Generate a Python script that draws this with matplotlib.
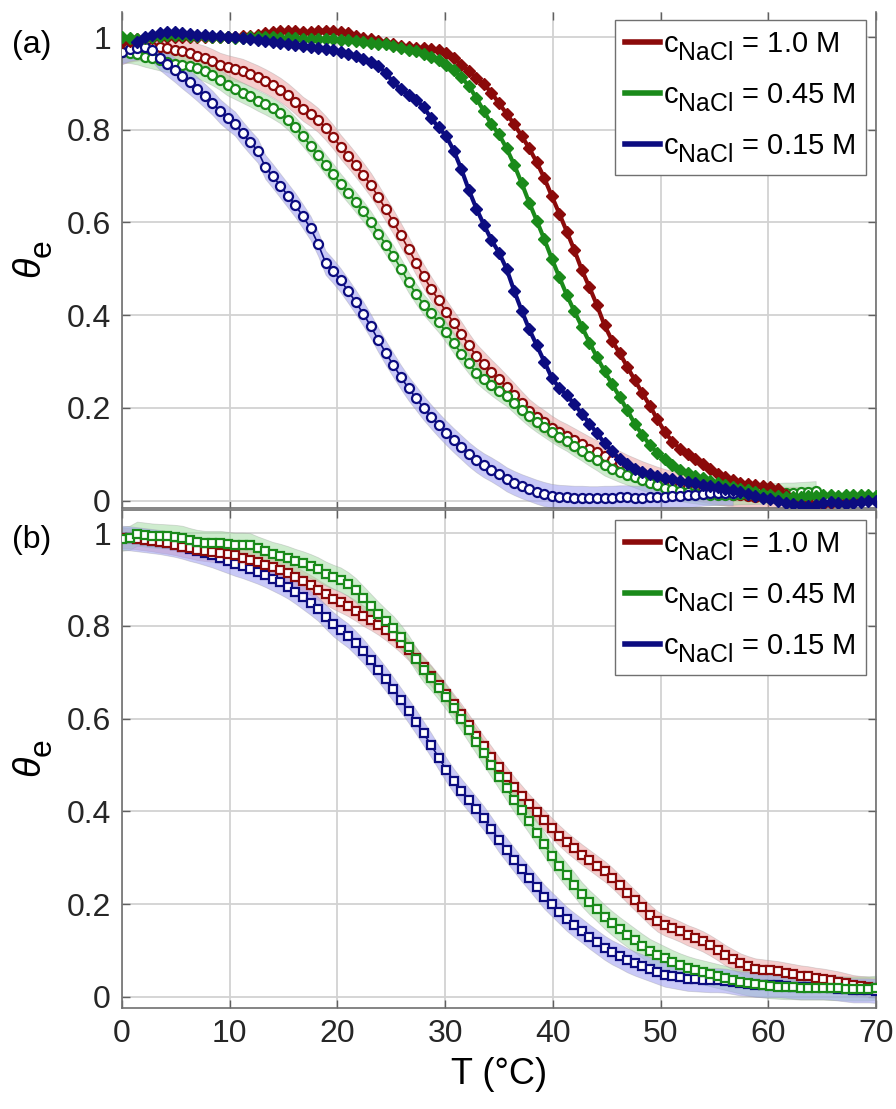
import numpy as np
import matplotlib
matplotlib.use("Agg")
import matplotlib.pyplot as plt
from matplotlib.lines import Line2D
from matplotlib import font_manager
try:
    import matplotlib._mathtext as _mt
    _mt.SHRINK_FACTOR = 0.85
    _mt.FontConstantsBase.sub1 = 0.55
    _mt.FontConstantsBase.sub2 = 0.6
except Exception:
    pass

# ---------------- data ----------------
T = np.round(np.arange(101) * 0.7, 1)          # temperature grid (°C)
xticks = [0, 10, 20, 30, 40, 50, 60, 70]
yticks = [0, 0.2, 0.4, 0.6, 0.8, 1.0]
yticklabels = ['0', '0.2', '0.4', '0.6', '0.8', '1']
labels = [r'c$_{\mathregular{NaCl}}$ = 1.0 M',
          r'c$_{\mathregular{NaCl}}$ = 0.45 M',
          r'c$_{\mathregular{NaCl}}$ = 0.15 M']

# panel (a) filled markers
a_fill_red = [0.990, 0.992, 0.995, 0.997, 0.998, 1.000, 1.000, 1.000, 1.001, 1.000,
              1.000, 0.999, 1.000, 1.001, 1.000, 1.000, 1.002, 1.003, 1.005, 1.008,
              1.011, 1.012, 1.013, 1.012, 1.010, 1.011, 1.013, 1.014, 1.013, 1.011,
              1.008, 1.003, 0.998, 0.995, 0.991, 0.988, 0.985, 0.981, 0.978, 0.977,
              0.976, 0.975, 0.972, 0.965, 0.955, 0.940, 0.926, 0.912, 0.898, 0.880,
              0.857, 0.835, 0.812, 0.787, 0.760, 0.730, 0.696, 0.657, 0.619, 0.580,
              0.540, 0.497, 0.460, 0.421, 0.378, 0.345, 0.318, 0.289, 0.260, 0.232,
              0.205, 0.175, 0.148, 0.127, 0.112, 0.101, 0.090, 0.078, 0.068, 0.058,
              0.051, 0.044, 0.038, 0.035, 0.033, 0.032, 0.029, 0.025, 0.013, 0.003,
              -0.005, -0.008, -0.008, -0.007, -0.005, -0.004, -0.002, 0.000, 0.002, 0.003,
              0.005]
a_fill_green = [1.000, 0.998, 0.996, 0.998, 1.001, 1.003, 1.004, 1.005, 1.004, 1.003,
                1.003, 1.002, 1.001, 1.000, 0.999, 0.998, 0.998, 0.999, 1.000, 1.000,
                0.999, 0.998, 0.997, 0.997, 0.996, 0.996, 0.995, 0.995, 0.995, 0.994,
                0.993, 0.992, 0.990, 0.988, 0.986, 0.984, 0.981, 0.977, 0.973, 0.969,
                0.964, 0.958, 0.950, 0.940, 0.928, 0.913, 0.895, 0.868, 0.840, 0.812,
                0.790, 0.760, 0.725, 0.685, 0.643, 0.604, 0.564, 0.522, 0.482, 0.443,
                0.408, 0.375, 0.341, 0.309, 0.279, 0.251, 0.224, 0.195, 0.166, 0.142,
                0.120, 0.103, 0.089, 0.077, 0.067, 0.060, 0.054, 0.049, 0.043, 0.039,
                0.034, 0.030, 0.026, 0.022, 0.018, 0.015, 0.012, 0.010, 0.008, 0.007,
                0.008, 0.009, 0.010, 0.011, 0.011, 0.010, 0.011, 0.012, 0.011, 0.011,
                0.010]
a_fill_blue = [0.990, 1.000, 1.004, 1.008, 1.010, 1.010, 1.008, 1.006,      # from T=1.4
               1.005, 1.004, 1.003, 1.002, 1.000, 0.999, 0.998, 0.996, 0.994, 0.992,
               0.990, 0.988, 0.986, 0.983, 0.981, 0.979, 0.977, 0.975, 0.972, 0.968,
               0.964, 0.959, 0.953, 0.946, 0.938, 0.922, 0.902, 0.887, 0.876, 0.864,
               0.849, 0.825, 0.805, 0.786, 0.755, 0.715, 0.670, 0.630, 0.595, 0.562,
               0.535, 0.500, 0.453, 0.410, 0.370, 0.335, 0.300, 0.265, 0.243, 0.227,
               0.208, 0.187, 0.166, 0.145, 0.124, 0.106, 0.090, 0.078, 0.068, 0.062,
               0.058, 0.053, 0.049, 0.046, 0.043, 0.040, 0.037, 0.034, 0.031, 0.029,
               0.026, 0.023, 0.019, 0.014, 0.010, 0.006, 0.003, -0.001, -0.005, -0.008,
               -0.010, -0.011, -0.009, -0.006, -0.004, -0.005, -0.007, -0.006, -0.003, -0.001,
               0.000]
a_fill_blue_start = 2   # index in T where this series begins

# panel (a) open circles with bands
a_open_red = [0.968, 0.972, 0.975, 0.977, 0.978, 0.978, 0.976, 0.973, 0.970, 0.965,
              0.960, 0.955, 0.948, 0.940, 0.935, 0.931, 0.927, 0.920, 0.913, 0.905,
              0.896, 0.886, 0.874, 0.860, 0.845, 0.834, 0.821, 0.804, 0.785, 0.763,
              0.744, 0.724, 0.703, 0.681, 0.655, 0.628, 0.601, 0.572, 0.543, 0.513,
              0.484, 0.457, 0.432, 0.407, 0.383, 0.360, 0.335, 0.312, 0.295, 0.278,
              0.262, 0.245, 0.228, 0.210, 0.193, 0.180, 0.169, 0.157, 0.147, 0.139,
              0.130, 0.121, 0.112, 0.104, 0.096, 0.088, 0.081, 0.073, 0.066, 0.059,
              0.053, 0.047, 0.042, 0.038, 0.033, 0.030, 0.026, 0.023, 0.020, 0.017,
              0.015, 0.013, 0.011, 0.010, 0.008, 0.007, 0.006, 0.005, 0.004, 0.004,
              0.003, 0.003, 0.003]
a_open_green = [0.968, 0.966, 0.963, 0.958, 0.954, 0.950, 0.946, 0.942, 0.940, 0.937,
                0.933, 0.926, 0.918, 0.908, 0.896, 0.888, 0.880, 0.872, 0.863, 0.855,
                0.846, 0.836, 0.822, 0.805, 0.786, 0.766, 0.746, 0.725, 0.705, 0.683,
                0.664, 0.644, 0.624, 0.602, 0.576, 0.552, 0.528, 0.500, 0.471, 0.446,
                0.423, 0.404, 0.385, 0.363, 0.340, 0.317, 0.296, 0.276, 0.262, 0.249,
                0.237, 0.226, 0.211, 0.196, 0.182, 0.170, 0.159, 0.148, 0.138, 0.129,
                0.118, 0.108, 0.097, 0.087, 0.076, 0.069, 0.062, 0.056, 0.050, 0.044,
                0.039, 0.033, 0.027, 0.024, 0.021, 0.018, 0.016, 0.014, 0.013, 0.013,
                0.013, 0.013, 0.014, 0.014, 0.015, 0.015, 0.016, 0.016, 0.017, 0.017,
                0.018, 0.019, 0.020]
a_open_blue = [0.968, 0.974, 0.977, 0.978, 0.973, 0.955, 0.942, 0.929, 0.915, 0.902,
               0.888, 0.873, 0.858, 0.840, 0.826, 0.813, 0.792, 0.773, 0.755, 0.720,
               0.700, 0.679, 0.658, 0.637, 0.613, 0.588, 0.554, 0.513, 0.495, 0.475,
               0.452, 0.428, 0.403, 0.376, 0.346, 0.318, 0.292, 0.266, 0.242, 0.221,
               0.200, 0.181, 0.163, 0.146, 0.130, 0.115, 0.100, 0.087, 0.076, 0.067,
               0.057, 0.046, 0.038, 0.031, 0.025, 0.019, 0.014, 0.010, 0.008, 0.007,
               0.006, 0.006, 0.005, 0.005, 0.006, 0.006, 0.007, 0.007, 0.006, 0.006,
               0.007, 0.008, 0.008, 0.009, 0.010, 0.011, 0.013, 0.015, 0.016, 0.017,
               0.017, 0.016]
a_band = [0.026, 0.022, 0.026]   # half-width of shaded bands (red, green, blue)

# panel (b) open squares with bands
b_red = [0.990, 0.989, 0.987, 0.985, 0.983, 0.980, 0.978, 0.975, 0.971, 0.968,
         0.964, 0.962, 0.960, 0.957, 0.955, 0.952, 0.947, 0.942, 0.937, 0.932,
         0.926, 0.921, 0.914, 0.906, 0.897, 0.888, 0.878, 0.868, 0.859, 0.851,
         0.843, 0.833, 0.822, 0.813, 0.803, 0.791, 0.778, 0.764, 0.748, 0.731,
         0.712, 0.693, 0.673, 0.653, 0.631, 0.610, 0.587, 0.563, 0.540, 0.518,
         0.495, 0.474, 0.453, 0.434, 0.415, 0.398, 0.381, 0.364, 0.348, 0.333,
         0.320, 0.307, 0.295, 0.283, 0.271, 0.257, 0.241, 0.225, 0.209, 0.193,
         0.177, 0.163, 0.154, 0.148, 0.141, 0.133, 0.127, 0.120, 0.111, 0.101,
         0.090, 0.081, 0.072, 0.066, 0.061, 0.059, 0.057, 0.055, 0.052, 0.049,
         0.046, 0.044, 0.041, 0.039, 0.036, 0.033, 0.029, 0.025, 0.023, 0.022,
         0.020]
b_green = [0.988, 0.990, 0.999, 0.997, 0.995, 0.994, 0.993, 0.992, 0.990, 0.985,
           0.981, 0.979, 0.979, 0.979, 0.977, 0.975, 0.975, 0.974, 0.967, 0.961,
           0.955, 0.951, 0.946, 0.940, 0.935, 0.929, 0.922, 0.913, 0.906, 0.900,
           0.890, 0.877, 0.860, 0.843, 0.826, 0.810, 0.795, 0.776, 0.754, 0.728,
           0.705, 0.687, 0.667, 0.646, 0.623, 0.600, 0.575, 0.550, 0.525, 0.500,
           0.475, 0.450, 0.425, 0.402, 0.379, 0.354, 0.329, 0.304, 0.282, 0.262,
           0.242, 0.221, 0.204, 0.189, 0.173, 0.159, 0.146, 0.134, 0.122, 0.110,
           0.099, 0.091, 0.083, 0.075, 0.068, 0.062, 0.057, 0.053, 0.049, 0.045,
           0.041, 0.037, 0.033, 0.029, 0.027, 0.025, 0.023, 0.022, 0.021, 0.021,
           0.020, 0.020, 0.020, 0.020, 0.019, 0.019, 0.018, 0.018, 0.018, 0.018,
           0.020]
b_blue = [0.990, 0.989, 0.987, 0.985, 0.983, 0.981, 0.978, 0.975, 0.971, 0.966,
          0.962, 0.957, 0.952, 0.946, 0.940, 0.934, 0.929, 0.923, 0.917, 0.910,
          0.902, 0.894, 0.885, 0.874, 0.862, 0.850, 0.837, 0.820, 0.804, 0.791,
          0.779, 0.763, 0.746, 0.726, 0.706, 0.685, 0.663, 0.640, 0.617, 0.593,
          0.568, 0.543, 0.516, 0.490, 0.466, 0.445, 0.425, 0.405, 0.385, 0.362,
          0.338, 0.317, 0.296, 0.275, 0.256, 0.236, 0.216, 0.200, 0.184, 0.168,
          0.155, 0.143, 0.130, 0.118, 0.106, 0.096, 0.088, 0.079, 0.072, 0.066,
          0.060, 0.054, 0.048, 0.045, 0.042, 0.039, 0.038, 0.037, 0.036, 0.036,
          0.035, 0.032, 0.029, 0.028, 0.026, 0.025, 0.025, 0.025, 0.024, 0.022,
          0.021, 0.021, 0.021, 0.021, 0.020, 0.018, 0.016, 0.014, 0.014, 0.014,
          0.013]
b_band = [0.022, 0.026, 0.026]

# ---------------- style ----------------
def pick_font(cands):
    for c in cands:
        try:
            font_manager.findfont(c, fallback_to_default=False)
            return c
        except Exception:
            pass
    return 'DejaVu Sans'

FONT = pick_font(['Liberation Sans Narrow', 'Liberation Sans', 'Arial'])
plt.rcParams['font.family'] = [FONT, 'DejaVu Sans']
plt.rcParams['mathtext.fontset'] = 'custom'
plt.rcParams['mathtext.rm'] = FONT
plt.rcParams['mathtext.it'] = FONT + ':italic'
plt.rcParams['mathtext.bf'] = FONT + ':bold'

C_RED, C_GREEN, C_BLUE = '#8b0a0a', '#1a8a1a', '#0c0c80'
BAND = [(0.93, 0.62, 0.62, 0.5), (0.62, 0.86, 0.62, 0.5), (0.62, 0.62, 0.95, 0.55)]
colors = [C_RED, C_GREEN, C_BLUE]

TICK_FS = 23
W, H = 896, 1109
fig = plt.figure(figsize=(W / 100, H / 100), dpi=100)
left, width = 122 / W, 754 / W
axA = fig.add_axes([left, 1 - 508 / H, width, 496 / H])
axB = fig.add_axes([left, 1 - 1008 / H, width, 498 / H])


def style(ax, ylo, yhi):
    ax.set_xlim(0, 70)
    ax.set_ylim(ylo, yhi)
    ax.set_xticks(xticks)
    ax.set_yticks(yticks)
    ax.set_yticklabels(yticklabels)
    ax.grid(True, color='#d2d2d2', lw=1.3)
    ax.set_axisbelow(True)
    ax.tick_params(direction='in', length=6, width=1, color='#606060',
                   labelsize=TICK_FS, top=True, right=True, pad=8,
                   labelcolor='#262626')
    for s in ax.spines.values():
        s.set_color('#707070')
        s.set_linewidth(1.2)
    ax.set_ylabel(r'$\theta_{\mathregular{e}}$', fontsize=27, labelpad=8)


style(axA, -0.016, 1.054)
style(axB, -0.024, 1.05)
axA.tick_params(labelbottom=False)
axA.spines['top'].set_visible(False)

# ---- panel (a)
open_a = [a_open_red, a_open_green, a_open_blue]
for i, vals in enumerate(open_a):
    v = np.array(vals)
    t = T[:len(v)]
    axA.fill_between(t, v - a_band[i], v + a_band[i], color=BAND[i],
                     lw=0.6, edgecolor=(0.6, 0.6, 0.6, 0.35), zorder=2)
for vals, c in zip(open_a, colors):
    v = np.array(vals)
    t = T[:len(v)]
    axA.plot(t, v, '-', color=c, lw=1.2, marker='o', ms=6.5, mfc='white',
             mec=c, mew=1.6, zorder=3)

fill_a = [(T, a_fill_red), (T, a_fill_green), (T[a_fill_blue_start:], a_fill_blue)]
for (t, vals), c in zip(fill_a, colors):
    axA.plot(t, vals, '-', color=c, lw=3.0, marker='D', ms=6.2, mfc=c, mec=c,
             mew=1.0, zorder=4)

# ---- panel (b)
b_series = [b_red, b_green, b_blue]
for i, vals in enumerate(b_series):
    v = np.array(vals)
    axB.fill_between(T, v - b_band[i], v + b_band[i], color=BAND[i], lw=0.6,
                     edgecolor=(0.6, 0.6, 0.6, 0.35), zorder=2)
for i in [2, 0, 1]:
    v = np.array(b_series[i])
    axB.plot(T, v, '-', color=colors[i], lw=1.2, marker='s', ms=6.0, mfc='white',
             mec=colors[i], mew=1.6, zorder=3)

axB.set_xticklabels([str(x) for x in xticks])
axB.set_xlabel('T (°C)', fontsize=26, labelpad=6)

# legends
handles = [Line2D([0], [0], color=c, lw=4) for c in colors]
for ax, anchor in [(axA, (1 - 10 / 754, 1 - 8 / 496)), (axB, (1 - 10 / 754, 1 - 10 / 498))]:
    leg = ax.legend(handles, labels, loc='upper right', bbox_to_anchor=anchor,
                    borderaxespad=0, fontsize=21, handlelength=1.2,
                    handletextpad=0.1, labelspacing=0.62, borderpad=0.35,
                    fancybox=False, framealpha=1, edgecolor='#707070')
    leg.get_frame().set_linewidth(1.0)
    leg.set_zorder(10)

fig.text(12 / W, 1 - 45 / H, '(a)', fontsize=23, va='center', ha='left')
fig.text(12 / W, 1 - 540 / H, '(b)', fontsize=23, va='center', ha='left')

fig.savefig('out.png', dpi=100)
